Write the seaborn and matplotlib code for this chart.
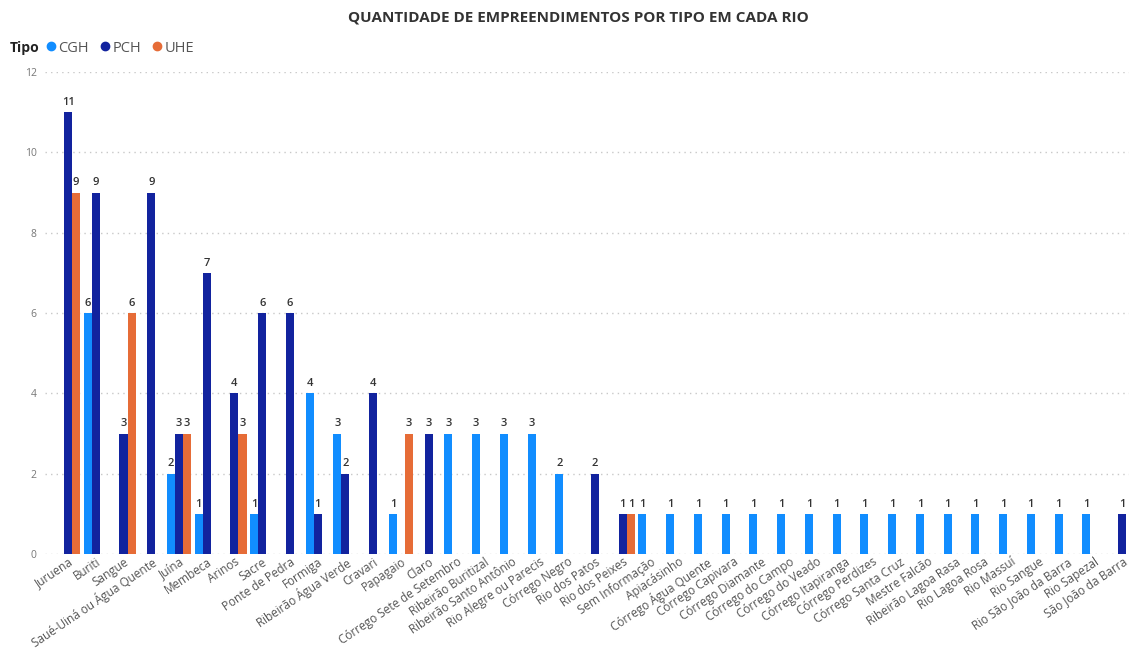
import matplotlib
matplotlib.use("Agg")
import matplotlib.pyplot as plt
from matplotlib.lines import Line2D
import seaborn as sns
import pandas as pd
import numpy as np

rios = [
    "Juruena", "Buriti", "Sangue", "Saué-Uiná ou Água Quente", "Juína", "Membeca",
    "Arinos", "Sacre", "Ponte de Pedra", "Formiga", "Ribeirão Água Verde", "Cravari",
    "Papagaio", "Claro", "Córrego Sete de Setembro", "Ribeirão Buritizal",
    "Ribeirão Santo Antônio", "Rio Alegre ou Parecis", "Córrego Negro", "Rio dos Patos",
    "Rio dos Peixes", "Sem Informação", "Apiacásinho", "Córrego Água Quente",
    "Córrego Capivara", "Córrego Diamante", "Córrego do Campo", "Córrego do Veado",
    "Córrego Itapiranga", "Córrego Perdizes", "Córrego Santa Cruz", "Mestre Falcão",
    "Ribeirão Lagoa Rasa", "Rio Lagoa Rosa", "Rio Massuí", "Rio Sangue",
    "Rio São João da Barra", "Rio Sapezal", "São João da Barra",
]
tipos = ["CGH", "PCH", "UHE"]

# counts per river (None = no plant of that type)
cgh = [None, 6, None, None, 2, 1, None, 1, None, 4, 3, None, 1, None, 3, 3, 3, 3, 2,
       None, None, 1, 1, 1, 1, 1, 1, 1, 1, 1, 1, 1, 1, 1, 1, 1, 1, 1, None]
pch = [11, 9, 3, 9, 3, 7, 4, 6, 6, 1, 2, 4, None, 3, None, None, None, None, None,
       2, 1, None, None, None, None, None, None, None, None, None, None, None, None,
       None, None, None, None, None, 1]
uhe = [9, None, 6, None, 3, None, 3, None, None, None, None, None, 3, None, None, None,
       None, None, None, None, 1, None, None, None, None, None, None, None, None, None,
       None, None, None, None, None, None, None, None, None]

cores = {"CGH": "#118DFF", "PCH": "#12239E", "UHE": "#E66C37"}

rows = []
for tipo, serie in zip(tipos, [cgh, pch, uhe]):
    for rio, v in zip(rios, serie):
        if v is not None:
            rows.append({"Rio": rio, "Tipo": tipo, "Qtd": v})
df = pd.DataFrame(rows)

sns.set_theme(style="white")
plt.rcParams["font.family"] = ["Open Sans", "DejaVu Sans"]

fig = plt.figure(figsize=(11.29, 6.52), dpi=100)
ax = fig.add_axes([45 / 1129, (652 - 554) / 652, (1129 - 45) / 1129, (554 - 72) / 652])

sns.barplot(data=df, x="Rio", y="Qtd", hue="Tipo", order=rios, hue_order=tipos,
            palette=cores, saturation=1, width=0.87, dodge=True, ax=ax, legend=False,
            edgecolor="none", linewidth=0)

for cont in ax.containers:
    ax.bar_label(cont, fmt="%d", padding=3, fontsize=8, fontweight="semibold",
                 color="#333333")

ax.set_ylim(0, 12)
ax.set_xlim(-0.83, 38.25)
ax.set_yticks(range(0, 13, 2))
ax.yaxis.grid(True, linestyle=(0, (1, 3)), color="#C8C8C8", linewidth=1)
ax.set_axisbelow(True)
for s in ax.spines.values():
    s.set_visible(False)
ax.set_xlabel("")
ax.set_ylabel("")
ax.tick_params(axis="y", labelsize=7.5, labelcolor="#777777", length=0, pad=6)
ax.tick_params(axis="x", length=0, pad=1)
ax.set_xticks(range(len(rios)))
ax.set_xticklabels(rios, rotation=34, ha="right", rotation_mode="anchor",
                   fontsize=8.5, color="#555555")

fig.text(578 / 1129, 1 - 18 / 652, "QUANTIDADE DE EMPREENDIMENTOS POR TIPO EM CADA RIO",
         ha="center", va="center", fontsize=11, fontweight="bold", color="#333333")

fig.text(10 / 1129, 1 - 48 / 652, "Tipo", ha="left", va="center", fontsize=10,
         fontweight="bold", color="#222222")
handles = [Line2D([], [], marker="o", linestyle="none", markersize=6,
                  markerfacecolor=cores[t], markeredgecolor=cores[t]) for t in tipos]
fig.legend(handles, tipos, loc="center left", bbox_to_anchor=(44 / 1129, 1 - 48 / 652),
           ncol=3, frameon=False, fontsize=10.5, handletextpad=0.0, columnspacing=0.6,
           handlelength=1.0, labelcolor="#555555", borderaxespad=0, borderpad=0)

fig.savefig("out.png", dpi=100)
